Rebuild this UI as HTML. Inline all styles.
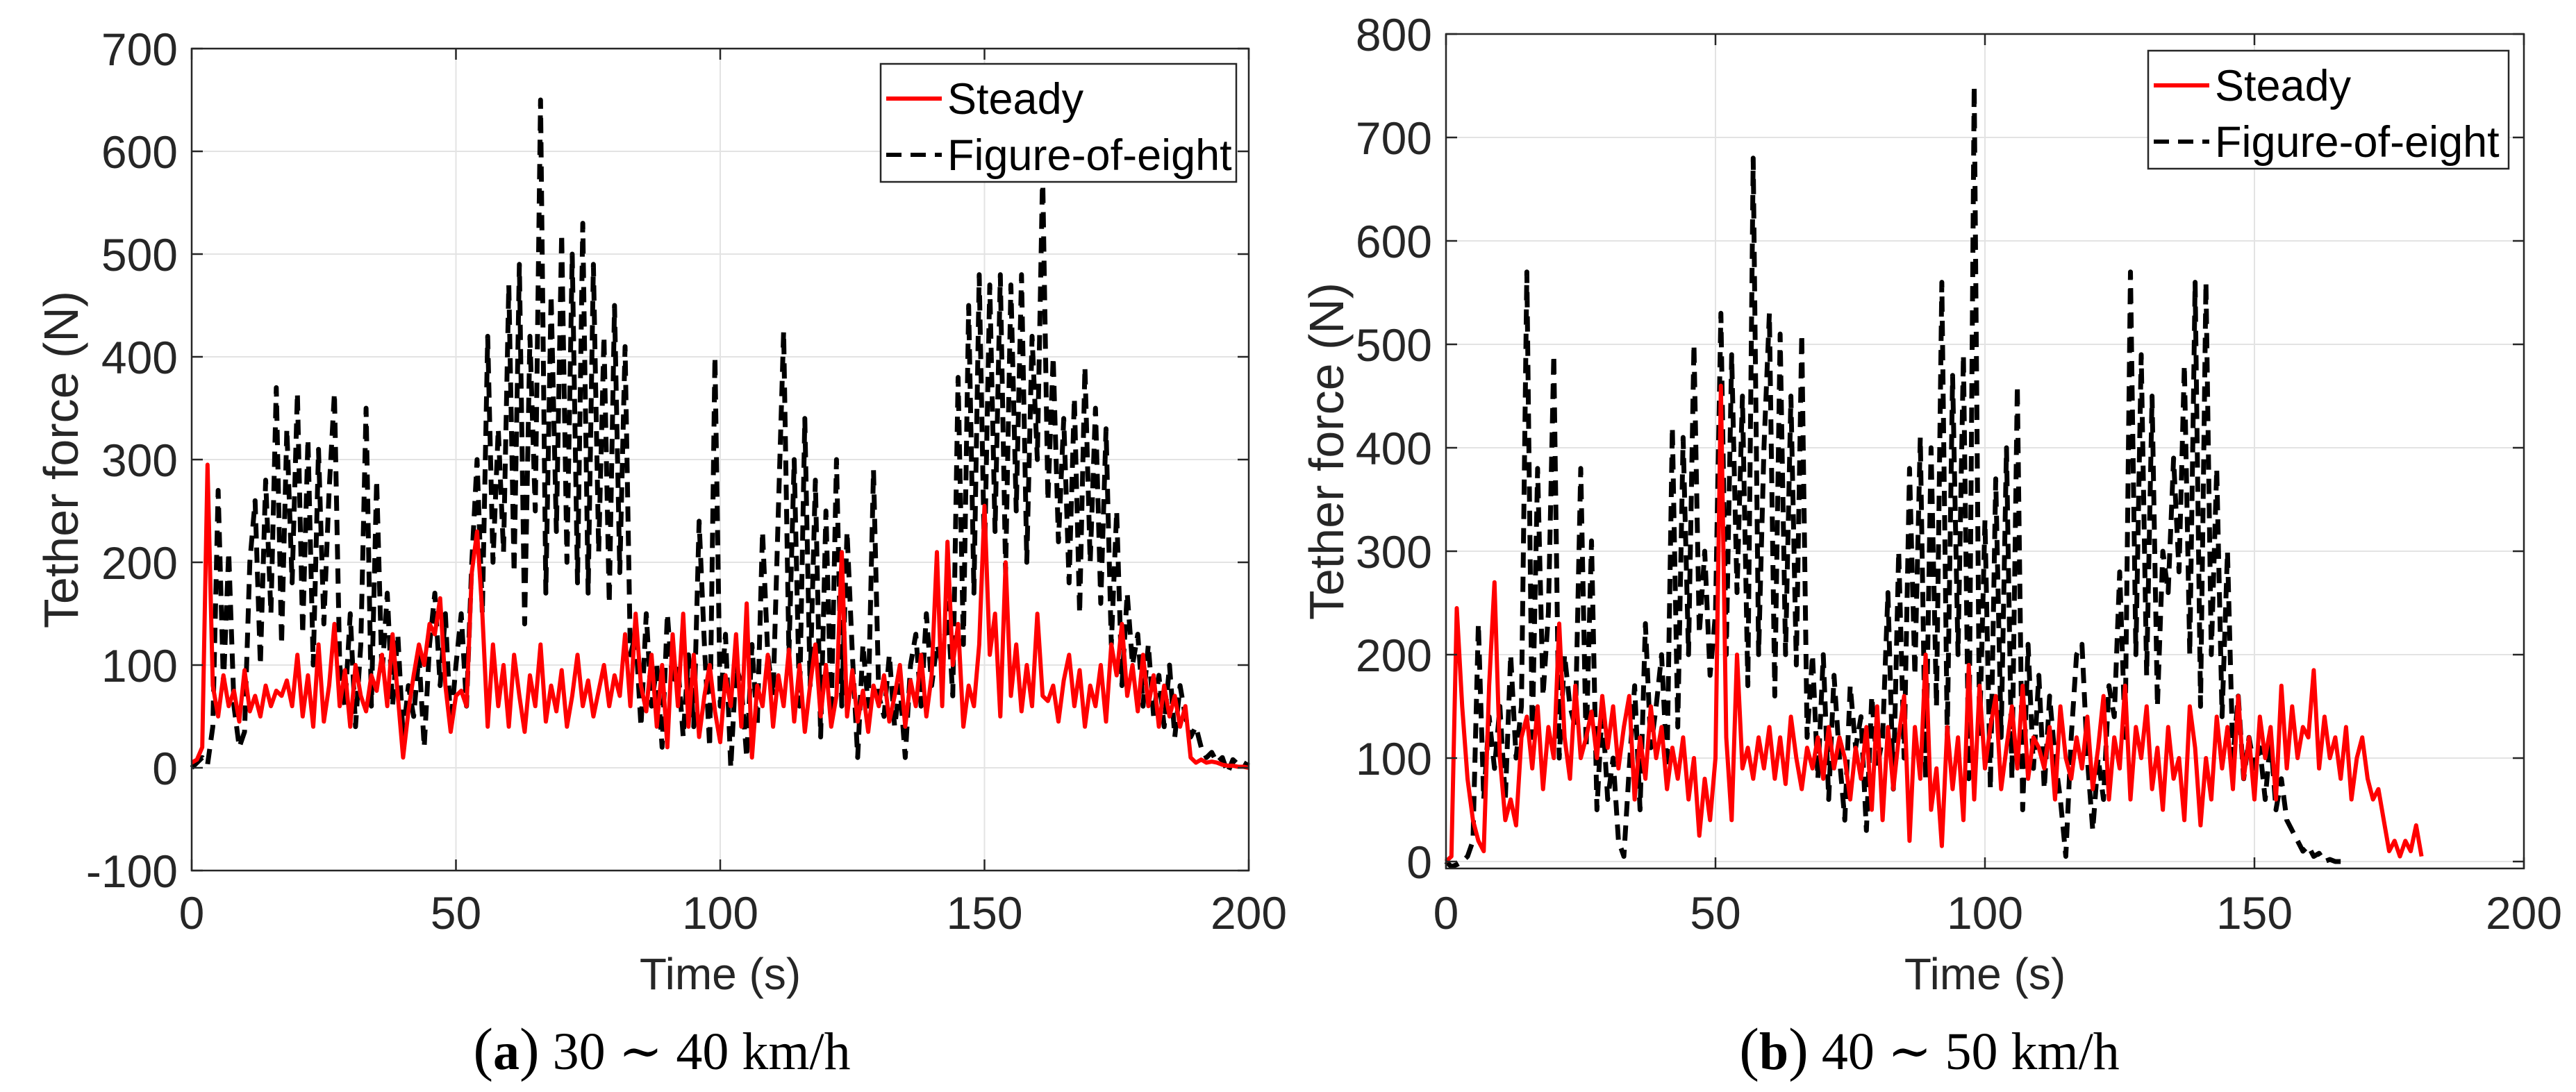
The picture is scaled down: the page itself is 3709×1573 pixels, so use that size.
<!DOCTYPE html>
<html><head><meta charset="utf-8"><style>
html,body{margin:0;padding:0;background:#fff;}
svg{display:block;}
</style></head><body>
<svg id="fig" width="3709" height="1573" viewBox="0 0 3709 1573" xmlns="http://www.w3.org/2000/svg">
<rect width="3709" height="1573" fill="#fff"/>
</svg>
<script>
const xTicks = [0, 50, 100, 150, 200];
const yTicksA = [-100, 0, 100, 200, 300, 400, 500, 600, 700];
const yTicksB = [0, 100, 200, 300, 400, 500, 600, 700, 800];
const dt = 1;
const steadyA = [5,8,20,295,80,50,90,60,75,45,
95,55,70,50,80,60,75,70,85,60,
110,50,90,40,120,45,80,140,60,95,
40,100,70,55,90,75,110,60,130,70,
10,55,90,120,100,140,130,165,80,35,
70,75,60,190,230,150,40,120,60,100,
40,110,70,35,90,60,120,45,80,55,
95,40,70,110,60,85,50,75,100,60,
90,70,130,60,150,80,55,110,40,100,
20,130,60,150,40,110,30,70,100,55,
25,90,60,130,40,160,10,80,60,110,
40,90,60,115,45,100,35,80,120,50,
100,40,70,210,50,95,45,75,35,80,
60,90,45,70,100,40,85,60,110,50,
90,210,60,220,100,140,40,80,60,120,
255,110,150,50,200,70,120,55,100,60,
150,70,65,80,45,85,110,60,95,40,
80,60,100,45,120,90,140,70,100,55,
110,60,90,40,80,50,70,40,60,10,
5,8,5,6,5,3,2,2,1,1,0];
const eightA = [0,5,10,3,40,270,80,210,60,20,
35,200,260,100,280,150,370,120,330,180,
365,130,320,100,310,140,270,365,100,60,
150,40,120,350,60,280,90,170,60,130,
30,80,50,110,20,120,170,80,150,40,
100,150,60,200,300,150,420,200,330,210,
470,190,490,140,420,250,650,170,460,230,
520,200,500,180,530,170,490,210,420,160,
450,190,410,110,130,40,150,60,100,20,
150,80,100,30,110,40,240,120,20,400,
60,130,0,100,80,10,120,40,230,110,
70,250,425,110,300,60,340,80,280,30,
250,50,300,60,230,110,10,120,60,290,
70,50,110,40,80,10,100,130,60,150,
80,120,100,160,70,380,120,450,170,480,
200,470,230,480,190,470,250,480,200,420,
300,580,260,400,220,340,180,360,150,390,
200,350,160,330,120,250,80,170,100,130,
60,120,50,90,40,100,30,80,50,30,
40,20,10,15,5,10,-5,8,3,5,2];
const steadyB = [0,5,245,150,80,40,20,10,170,270,
100,40,60,35,120,140,90,150,70,130,
100,230,120,80,170,100,120,145,100,160,
110,150,90,130,160,60,120,80,150,100,
130,70,110,80,120,60,100,25,80,40,
100,460,120,40,200,90,110,80,120,90,
130,80,120,75,140,100,70,110,90,120,
80,130,90,120,100,60,110,80,130,50,
150,40,130,70,120,160,20,130,80,200,
50,90,15,130,70,120,40,190,60,170,
90,130,160,70,110,150,90,170,80,120,
110,90,130,60,150,100,80,120,90,140,
70,110,160,60,120,90,170,60,130,100,
150,70,110,50,130,80,100,40,150,110,
35,100,60,140,90,130,70,160,80,120,
60,140,100,130,60,170,90,150,100,130,
120,185,90,140,100,120,80,130,60,100,
120,80,60,70,40,10,20,5,20,10,35,5];
const eightB = [0,-5,-3,0,5,20,230,60,140,90,
150,60,200,100,150,570,120,380,160,240,
490,100,200,150,130,380,110,310,50,150,
60,100,20,5,90,170,50,230,110,150,
200,90,420,130,410,200,500,220,300,180,
240,530,200,490,260,450,170,680,200,400,
530,160,510,200,450,190,510,120,200,80,
200,60,180,100,40,170,110,140,30,160,
90,120,260,70,300,100,380,180,410,80,
400,150,560,120,470,200,490,80,750,120,
330,70,370,120,400,80,460,50,210,90,
180,70,160,100,60,5,120,200,210,100,
30,100,60,170,140,280,120,570,200,490,
180,450,150,300,260,390,280,480,200,560,
150,560,200,380,140,300,100,160,80,120,
90,110,60,120,50,80,40,30,20,10,
15,5,8,0,2,0,0];

const NS = 'http://www.w3.org/2000/svg';
const svg = document.getElementById('fig');
function mk(tag, attrs, parent) {
  const e = document.createElementNS(NS, tag);
  for (const k in attrs) e.setAttribute(k, attrs[k]);
  (parent || svg).appendChild(e);
  return e;
}
const FONT = '"Liberation Sans", Arial, sans-serif';

function panel(cfg) {
  const g = mk('g', {});
  
  
  const L = cfg.L, R = cfg.R, T = cfg.T, B = cfg.B;
  const sx = v => L + (v - 0) / 200 * (R - L);
  const sy = v => B - (v - cfg.ymin) / (cfg.ymax - cfg.ymin) * (B - T);
  xTicks.forEach(t => {
    const l = mk('line', {x1: sx(t), x2: sx(t), y1: T, y2: B, stroke: '#e3e3e3', 'stroke-width': 2}, g);
    
    
  });
  cfg.yTicks.forEach(t => {
    const l = mk('line', {x1: L, x2: R, y1: sy(t), y2: sy(t), stroke: '#e3e3e3', 'stroke-width': 2}, g);
    
    
  });
  function series(vals, color, w, dash, nm) {
    let d = '';
    vals.forEach((v, i) => { d += (i ? 'L' : 'M') + sx(i * dt).toFixed(1) + ',' + sy(v).toFixed(1); });
    const p = mk('path', {d: d, fill: 'none', stroke: color, 'stroke-width': w, 'stroke-linejoin': 'round'}, g);
    if (dash) p.setAttribute('stroke-dasharray', dash);
    
    
  }
  series(cfg.eight, '#000', 7, '22,13', 'figure-of-eight-line');
  series(cfg.steady, '#ff0000', 6, null, 'steady-line');
  const box = mk('rect', {x: L, y: T, width: R - L, height: B - T, fill: 'none', stroke: '#262626', 'stroke-width': 2.5}, g);
  
  
  xTicks.forEach(t => {
    mk('line', {x1: sx(t), x2: sx(t), y1: B, y2: B - 16, stroke: '#262626', 'stroke-width': 2.5}, g);
    mk('line', {x1: sx(t), x2: sx(t), y1: T, y2: T + 16, stroke: '#262626', 'stroke-width': 2.5}, g);
    const tx = mk('text', {x: sx(t), y: 1338, 'text-anchor': 'middle', 'font-family': FONT, 'font-size': 66, fill: '#262626'}, g);
    tx.textContent = t;
    
    
  });
  cfg.yTicks.forEach(t => {
    mk('line', {x1: L, x2: L + 16, y1: sy(t), y2: sy(t), stroke: '#262626', 'stroke-width': 2.5}, g);
    mk('line', {x1: R, x2: R - 16, y1: sy(t), y2: sy(t), stroke: '#262626', 'stroke-width': 2.5}, g);
    const tx = mk('text', {x: L - 20, y: sy(t) + 24, 'text-anchor': 'end', 'font-family': FONT, 'font-size': 66, fill: '#262626'}, g);
    tx.textContent = t;
    
    
  });
  const xl = mk('text', {x: (L + R) / 2, y: 1425, 'text-anchor': 'middle', 'font-family': FONT, 'font-size': 64, fill: '#262626'}, g);
  xl.textContent = 'Time (s)';
  
  
  const yc = (T + B) / 2;
  const yl = mk('text', {x: cfg.ylx, y: yc, 'text-anchor': 'middle', 'font-family': FONT, 'font-size': 70, fill: '#262626', transform: 'rotate(-90 ' + cfg.ylx + ' ' + yc + ')'}, g);
  yl.textContent = 'Tether force (N)';
  
  
  const lg = mk('g', {}, g);
  
  
  const lx = cfg.legX, ly = cfg.legY, lw = cfg.legW, lh = 170;
  mk('rect', {x: lx, y: ly, width: lw, height: lh, fill: '#fff', stroke: '#262626', 'stroke-width': 2.5}, lg);
  const e1 = mk('line', {x1: lx + 8, x2: lx + 88, y1: ly + 50, y2: ly + 50, stroke: '#ff0000', 'stroke-width': 6}, lg);
  
  
  const t1 = mk('text', {x: lx + 96, y: ly + 72, 'font-family': FONT, 'font-size': 63, fill: '#000'}, lg);
  t1.textContent = 'Steady';
  
  
  const e2 = mk('line', {x1: lx + 8, x2: lx + 88, y1: ly + 131, y2: ly + 131, stroke: '#000', 'stroke-width': 6, 'stroke-dasharray': '22,13'}, lg);
  
  
  const t2 = mk('text', {x: lx + 96, y: ly + 153, 'font-family': FONT, 'font-size': 63, fill: '#000'}, lg);
  t2.textContent = 'Figure-of-eight';
  
  
  const cap = mk('text', {x: cfg.capX, y: 1540, 'text-anchor': 'middle', 'font-family': '"Liberation Serif", "DejaVu Serif", serif', 'font-size': 76, fill: '#000'}, g);
  cap.innerHTML = '<tspan font-size="86">(</tspan><tspan font-weight="bold">' + cfg.letter + '</tspan><tspan font-size="86">)</tspan> ' + cfg.caption;
  
  
}

panel({name: 'panel-a', L: 276, R: 1798, T: 70, B: 1254, ymin: -100, ymax: 700, yTicks: yTicksA,
  steady: steadyA, eight: eightA, ylx: 112, legX: 1268, legY: 92, legW: 512, capX: 953, letter: 'a', caption: '30 ∼ 40 km/h'});
panel({name: 'panel-b', L: 2082, R: 3634, T: 49, B: 1251, ymin: -6.7, ymax: 800, yTicks: yTicksB,
  steady: steadyB, eight: eightB, ylx: 1934, legX: 3093, legY: 73, legW: 519, capX: 2778, letter: 'b', caption: '40 ∼ 50 km/h'});
</script>
</body></html>
